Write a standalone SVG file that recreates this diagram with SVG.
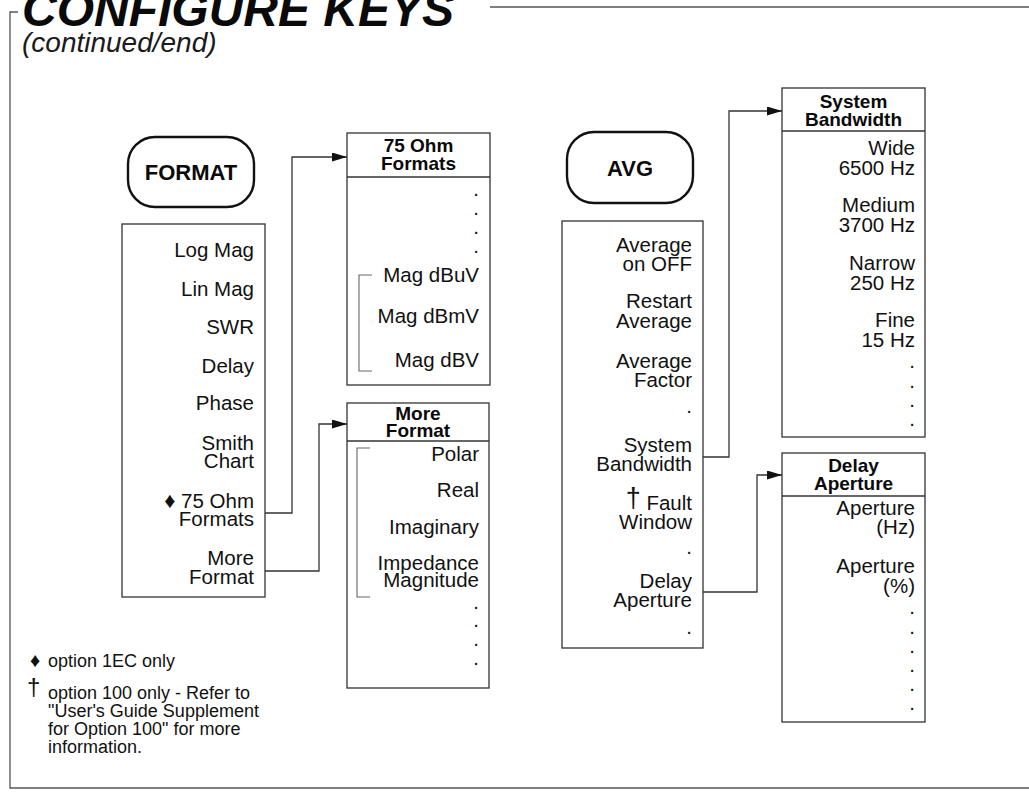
<svg xmlns="http://www.w3.org/2000/svg" width="1029" height="799" viewBox="0 0 1029 799">
<defs>
<style>
.t{font-family:"Liberation Sans",Arial,sans-serif;font-size:20.5px;fill:#111;text-anchor:end}
.fn{font-family:"Liberation Sans",Arial,sans-serif;font-size:18px;fill:#111}
.h{font-family:"Liberation Sans",Arial,sans-serif;font-size:19px;font-weight:bold;fill:#0a0a0a;text-anchor:middle}
.k{font-family:"Liberation Sans",Arial,sans-serif;font-size:22px;font-weight:bold;fill:#0a0a0a;text-anchor:middle}
.sym{font-size:22px}
.dag{font-size:27px}
.box{fill:none;stroke:#333;stroke-width:1.3}
.key{fill:none;stroke:#111;stroke-width:2.4}
.br{fill:none;stroke:#666;stroke-width:1.1}
.con{fill:none;stroke:#333;stroke-width:1.3}
.frame{fill:none;stroke:#555;stroke-width:1.3}
</style>
<marker id="arr" markerUnits="userSpaceOnUse" markerWidth="15" markerHeight="9" refX="15" refY="4.5" orient="auto">
<path d="M0,0 L15,4.5 L0,9 z" fill="#111"/>
</marker>
</defs>
<rect width="1029" height="799" fill="#fff"/>

<g id="frame">
<path class="frame" d="M18,12 H10 V788 H1029"/>
<path class="frame" d="M490,7 H1029"/>
<text x="22" y="26" style="font-family:'Liberation Sans',Arial,sans-serif;font-size:48px;font-weight:bold;font-style:italic;fill:#0a0a0a">CONFIGURE KEYS</text>
<text x="22" y="52" style="font-family:'Liberation Sans',Arial,sans-serif;font-size:28px;font-style:italic;fill:#1a1a1a">(continued/end)</text>
</g>

<g id="format-key">
<rect class="key" x="128" y="137" width="126" height="70" rx="27"/>
<text class="k" x="191" y="180">FORMAT</text>
</g>

<g id="format-menu">
<rect class="box" x="122" y="224" width="143" height="373"/>
<text class="t" x="254" y="257">Log Mag</text>
<text class="t" x="254" y="296">Lin Mag</text>
<text class="t" x="254" y="334">SWR</text>
<text class="t" x="254" y="373">Delay</text>
<text class="t" x="254" y="410">Phase</text>
<text class="t" x="254" y="450">Smith<tspan x="254" dy="18">Chart</tspan></text>
<text class="t" x="254" y="508"><tspan class="sym">♦</tspan> 75 Ohm<tspan x="254" dy="18">Formats</tspan></text>
<text class="t" x="254" y="565">More<tspan x="254" dy="19">Format</tspan></text>
</g>

<g id="ohm75-menu">
<rect class="box" x="347" y="133" width="143" height="252"/>
<line class="box" x1="347" y1="177" x2="490" y2="177"/>
<text class="h" x="418.5" y="152">75 Ohm<tspan x="418.5" dy="18">Formats</tspan></text>
<text class="t" x="479" y="196">.</text>
<text class="t" x="479" y="215">.</text>
<text class="t" x="479" y="234">.</text>
<text class="t" x="479" y="253">.</text>
<path class="br" d="M372,275 H359 V371 H372"/>
<text class="t" x="479" y="282">Mag dBuV</text>
<text class="t" x="479" y="323">Mag dBmV</text>
<text class="t" x="479" y="367">Mag dBV</text>
</g>

<g id="more-format-menu">
<rect class="box" x="347" y="403" width="142" height="285"/>
<line class="box" x1="347" y1="441" x2="489" y2="441"/>
<text class="h" x="418" y="420">More<tspan x="418" dy="17">Format</tspan></text>
<path class="br" d="M370,448 H357 V597 H370"/>
<text class="t" x="479" y="461">Polar</text>
<text class="t" x="479" y="497">Real</text>
<text class="t" x="479" y="534">Imaginary</text>
<text class="t" x="479" y="570">Impedance<tspan x="479" dy="17">Magnitude</tspan></text>
<text class="t" x="479" y="609">.</text>
<text class="t" x="479" y="627">.</text>
<text class="t" x="479" y="646">.</text>
<text class="t" x="479" y="665">.</text>
</g>

<g id="avg-key">
<rect class="key" x="567" y="132" width="126" height="71" rx="27"/>
<text class="k" x="630" y="176">AVG</text>
</g>

<g id="avg-menu">
<rect class="box" x="562" y="221" width="141" height="427"/>
<text class="t" x="692" y="252">Average<tspan x="692" dy="19">on OFF</tspan></text>
<text class="t" x="692" y="308">Restart<tspan x="692" dy="20">Average</tspan></text>
<text class="t" x="692" y="368">Average<tspan x="692" dy="19">Factor</tspan></text>
<text class="t" x="692" y="413">.</text>
<text class="t" x="692" y="452">System<tspan x="692" dy="19">Bandwidth</tspan></text>
<text class="t" x="692" y="510"><tspan class="dag" dy="-3">†</tspan><tspan dy="3"> Fault</tspan><tspan x="692" dy="19">Window</tspan></text>
<text class="t" x="692" y="554">.</text>
<text class="t" x="692" y="588">Delay<tspan x="692" dy="19">Aperture</tspan></text>
<text class="t" x="692" y="634">.</text>
</g>

<g id="system-bandwidth-menu">
<rect class="box" x="782" y="88" width="143" height="349"/>
<line class="box" x1="782" y1="131" x2="925" y2="131"/>
<text class="h" x="853.5" y="108">System<tspan x="853.5" dy="18">Bandwidth</tspan></text>
<text class="t" x="915" y="155">Wide<tspan x="915" dy="20">6500 Hz</tspan></text>
<text class="t" x="915" y="212">Medium<tspan x="915" dy="20">3700 Hz</tspan></text>
<text class="t" x="915" y="270">Narrow<tspan x="915" dy="20">250 Hz</tspan></text>
<text class="t" x="915" y="327">Fine<tspan x="915" dy="20">15 Hz</tspan></text>
<text class="t" x="915" y="368">.</text>
<text class="t" x="915" y="388">.</text>
<text class="t" x="915" y="407">.</text>
<text class="t" x="915" y="426">.</text>
</g>

<g id="delay-aperture-menu">
<rect class="box" x="782" y="453" width="143" height="269"/>
<line class="box" x1="782" y1="496" x2="925" y2="496"/>
<text class="h" x="853.5" y="472">Delay<tspan x="853.5" dy="18">Aperture</tspan></text>
<text class="t" x="915" y="515">Aperture<tspan x="915" dy="19">(Hz)</tspan></text>
<text class="t" x="915" y="573">Aperture<tspan x="915" dy="20">(%)</tspan></text>
<text class="t" x="915" y="614">.</text>
<text class="t" x="915" y="634">.</text>
<text class="t" x="915" y="653">.</text>
<text class="t" x="915" y="672">.</text>
<text class="t" x="915" y="691">.</text>
<text class="t" x="915" y="710">.</text>
</g>

<g id="connectors">
<path class="con" d="M265,513 H292 V157 H347" marker-end="url(#arr)"/>
<path class="con" d="M265,571 H319 V424 H347" marker-end="url(#arr)"/>
<path class="con" d="M703,457 H729 V111 H782" marker-end="url(#arr)"/>
<path class="con" d="M703,592 H757 V475 H782" marker-end="url(#arr)"/>
</g>

<g id="footnotes">
<text class="fn" x="30" y="667"><tspan class="sym" style="font-size:20px">♦</tspan><tspan x="48">option 1EC only</tspan></text>
<text class="fn" x="27" y="695"><tspan style="font-size:24px">†</tspan><tspan x="48" y="699">option 100 only - Refer to</tspan><tspan x="48" dy="18">"User's Guide Supplement</tspan><tspan x="48" dy="18">for Option 100" for more</tspan><tspan x="48" dy="18">information.</tspan></text>
</g>
</svg>
